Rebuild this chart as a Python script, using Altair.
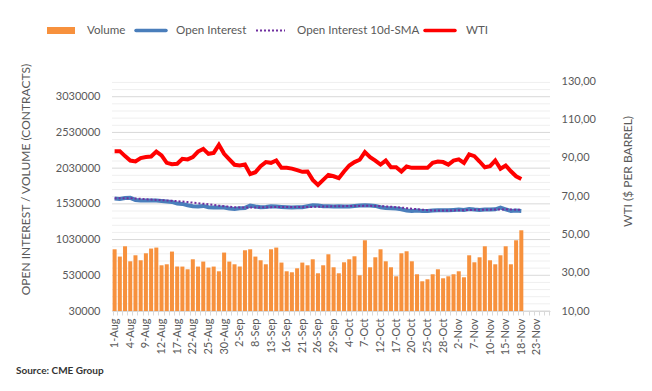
import json
import altair as alt
import pandas as pd

# ---- categories (trading days, Aug 1 – Nov 25, 2022) ----
days = pd.bdate_range("2022-08-01", "2022-11-25")
days = [d for d in days if d != pd.Timestamp("2022-09-05")]
categories = [f"{d.day}-{d.strftime('%b')}" for d in days]
n_data = 79  # data through 18-Nov
tick_labels = categories[::3]

left_ticks = [30000, 530000, 1030000, 1530000, 2030000, 2530000, 3030000]
minor_grid = [v for v in range(30000, 3230001, 100000) if v not in left_ticks]
right_ticks = [10, 30, 50, 70, 90, 110, 130]

volume = [894, 792, 936, 726, 810, 740, 838, 904, 918, 670,
          684, 862, 652, 652, 614, 754, 652, 722, 638, 652,
          586, 848, 722, 684, 652, 880, 894, 792, 740, 684,
          894, 918, 708, 586, 572, 628, 708, 670, 754, 558,
          670, 824, 642, 558, 712, 754, 796, 530, 1020, 642,
          782, 894, 726, 642, 516, 838, 866, 726, 544, 446,
          474, 544, 614, 488, 516, 544, 586, 502, 810, 712,
          782, 936, 740, 684, 810, 936, 684, 1020, 1160]

open_interest = [1605, 1598, 1612, 1615, 1585, 1576, 1576, 1576, 1576, 1571,
                 1562, 1557, 1534, 1529, 1510, 1496, 1492, 1501, 1482, 1478,
                 1478, 1478, 1464, 1459, 1468, 1473, 1506, 1492, 1482, 1487,
                 1496, 1492, 1487, 1482, 1478, 1482, 1482, 1496, 1510, 1506,
                 1496, 1496, 1492, 1496, 1492, 1492, 1501, 1506, 1510, 1506,
                 1501, 1482, 1473, 1468, 1464, 1454, 1436, 1431, 1436, 1431,
                 1431, 1436, 1440, 1440, 1440, 1445, 1450, 1445, 1459, 1450,
                 1445, 1450, 1450, 1454, 1478, 1454, 1431, 1436, 1431]

oi_sma = [1610, 1608, 1608, 1609, 1605, 1600, 1595, 1590, 1585,
          1582, 1578, 1574, 1568, 1562, 1555, 1547, 1540, 1532, 1524, 1515, 1505,
          1498, 1490, 1484, 1480, 1480, 1480, 1480, 1481, 1482, 1484,
          1486, 1487, 1487, 1486, 1485, 1484, 1485, 1487, 1490, 1492,
          1494, 1496, 1497, 1498, 1499, 1500, 1501, 1502, 1502, 1501,
          1498, 1494, 1489, 1484, 1478, 1470, 1462, 1455, 1448, 1442,
          1438, 1436, 1436, 1437, 1438, 1440, 1442, 1444, 1446, 1447,
          1448, 1449, 1450, 1452, 1453, 1451, 1448, 1445]

wti = [93.4, 93.4, 90.8, 88.5, 88.0, 89.8, 90.3, 90.6, 93.2, 91.2,
       87.3, 86.6, 86.8, 89.4, 89.1, 90.3, 93.2, 94.6, 92.0, 92.5,
       96.7, 92.0, 89.1, 86.3, 85.9, 86.4, 81.4, 82.4, 85.6, 87.7,
       87.3, 88.5, 84.7, 84.7, 84.3, 83.5, 82.6, 82.8, 78.4, 75.8,
       78.4, 81.0, 80.3, 79.3, 82.8, 85.9, 87.7, 88.9, 92.9, 90.3,
       88.5, 86.4, 88.5, 85.0, 85.0, 82.8, 85.4, 84.7, 84.7, 84.7,
       84.7, 87.3, 88.0, 87.7, 86.4, 88.5, 89.1, 87.3, 91.7, 90.8,
       88.0, 85.0, 85.6, 88.5, 84.2, 85.9, 82.9, 80.3, 78.9]

df = pd.DataFrame({
    "date": categories[:n_data],
    "volume": [v * 1000 for v in volume],
    "oi": [v * 1000 for v in open_interest],
    "sma": [v * 1000 for v in oi_sma],
    "wti": wti,
})

FONT = "Lato"
GREY = "#595959"
LEFT_DOMAIN = [30000, 3250000]

x_enc = alt.X(
    "date:N",
    sort=categories,
    scale=alt.Scale(domain=categories, paddingInner=0.23, paddingOuter=0.115),
    axis=alt.Axis(
        title=None,
        labelAngle=-90,
        labelExpr="indexof(" + json.dumps(tick_labels) + ", datum.value) >= 0 ? datum.label : ''",
        labelOverlap=False,
        labelFontSize=11,
        labelColor=GREY,
        labelPadding=3,
        tickBand="extent",
        tickSize=4,
        tickColor="#d9d9d9",
        domainColor="#d9d9d9",
        grid=False,
    ),
)

left_axis = alt.Axis(
    title="OPEN INTEREST / VOLUME (CONTRACTS)",
    values=left_ticks,
    format="d",
    labelOverlap=False,
    labelFontSize=11,
    labelColor=GREY,
    labelPadding=12,
    domain=False,
    ticks=False,
    grid=False,
    titleFontSize=12,
    titleFontWeight="normal",
    titleColor=GREY,
    titleAngle=270,
    titleX=-87,
    titleY=98,
    titleAlign="center",
    titleBaseline="middle",
)

left_scale = alt.Scale(domain=LEFT_DOMAIN, zero=False, nice=False)

minor_rules = alt.Chart(pd.DataFrame({"g": minor_grid})).mark_rule(
    color="#efefef", strokeWidth=1).encode(y=alt.Y("g:Q", scale=left_scale, axis=left_axis))
major_rules = alt.Chart(pd.DataFrame({"g": left_ticks})).mark_rule(
    color="#d9d9d9", strokeWidth=1).encode(y=alt.Y("g:Q", scale=left_scale, axis=left_axis))

base = alt.Chart(df)
bars = base.mark_bar(color="#F7913D").encode(
    x=x_enc,
    y=alt.Y("volume:Q", scale=left_scale, axis=left_axis),
    y2=alt.datum(30000),
)
oi_line = base.mark_line(color="#4A7EBB", strokeWidth=4).encode(
    x=x_enc, y=alt.Y("oi:Q", scale=left_scale, axis=left_axis)
)
sma_line = base.mark_line(color="#7030A0", strokeWidth=2, strokeDash=[2, 2]).encode(
    x=x_enc, y=alt.Y("sma:Q", scale=left_scale, axis=left_axis)
)
left = alt.layer(minor_rules, major_rules, bars, oi_line, sma_line)

wti_line = base.mark_line(color="#FF0000", strokeWidth=4).encode(
    x=x_enc,
    y=alt.Y(
        "wti:Q",
        scale=alt.Scale(domain=[10, 130], zero=False, nice=False),
        axis=alt.Axis(
            orient="right",
            title="WTI ($ PER BARREL)",
            values=right_ticks,
            labelExpr="replace(format(datum.value, '.2f'), '.', ',')",
            labelOverlap=False,
            labelFontSize=11,
            labelColor=GREY,
            labelPadding=11,
            domain=False,
            ticks=False,
            grid=False,
            titleFontSize=12,
            titleFontWeight="normal",
            titleColor=GREY,
            titleAngle=270,
            titleX=77,
            titleY=90,
            titleAlign="center",
            titleBaseline="middle",
        ),
    ),
)

main = alt.layer(left, wti_line).resolve_scale(y="independent")

one = pd.DataFrame({"k": [0]})
LY = -50.5
legend_layers = [
    alt.Chart(one).mark_rect(color="#F7913D").encode(
        x=alt.value(-65), x2=alt.value(-37), y=alt.value(-54), y2=alt.value(-47)),
    alt.Chart(one).mark_rule(color="#4A7EBB", strokeWidth=3.5, strokeCap="round").encode(
        x=alt.value(24), x2=alt.value(54), y=alt.value(LY)),
    alt.Chart(one).mark_rule(color="#7030A0", strokeWidth=2, strokeDash=[2, 2]).encode(
        x=alt.value(144), x2=alt.value(173), y=alt.value(LY)),
    alt.Chart(one).mark_rule(color="#FF0000", strokeWidth=3.5, strokeCap="round").encode(
        x=alt.value(313), x2=alt.value(343), y=alt.value(LY)),
]
for label, lx in [("Volume", -25), ("Open Interest", 64),
                  ("Open Interest 10d-SMA", 185), ("WTI", 354)]:
    legend_layers.append(
        alt.Chart(one).mark_text(align="left", baseline="middle", font=FONT,
                                 fontSize=11.6, color=GREY).encode(
            x=alt.value(lx), y=alt.value(LY), text=alt.value(label)))

source = alt.Chart(one).mark_text(align="left", baseline="middle", font=FONT,
                                  fontSize=10, fontWeight="bold", color="#333333").encode(
    x=alt.value(-96), y=alt.value(290), text=alt.value("Source: CME Group"))

chart = alt.layer(main, *legend_layers, source).properties(
    width=438,
    height=230,
    padding={"left": 104, "top": 73, "right": 92, "bottom": 70},
    autosize=alt.AutoSizeParams(type="none"),
    background="white",
).configure_view(stroke=None).configure_axis(
    labelFont=FONT, titleFont=FONT
)

chart.save("out.html", embed_options={"renderer": "svg", "actions": False})
